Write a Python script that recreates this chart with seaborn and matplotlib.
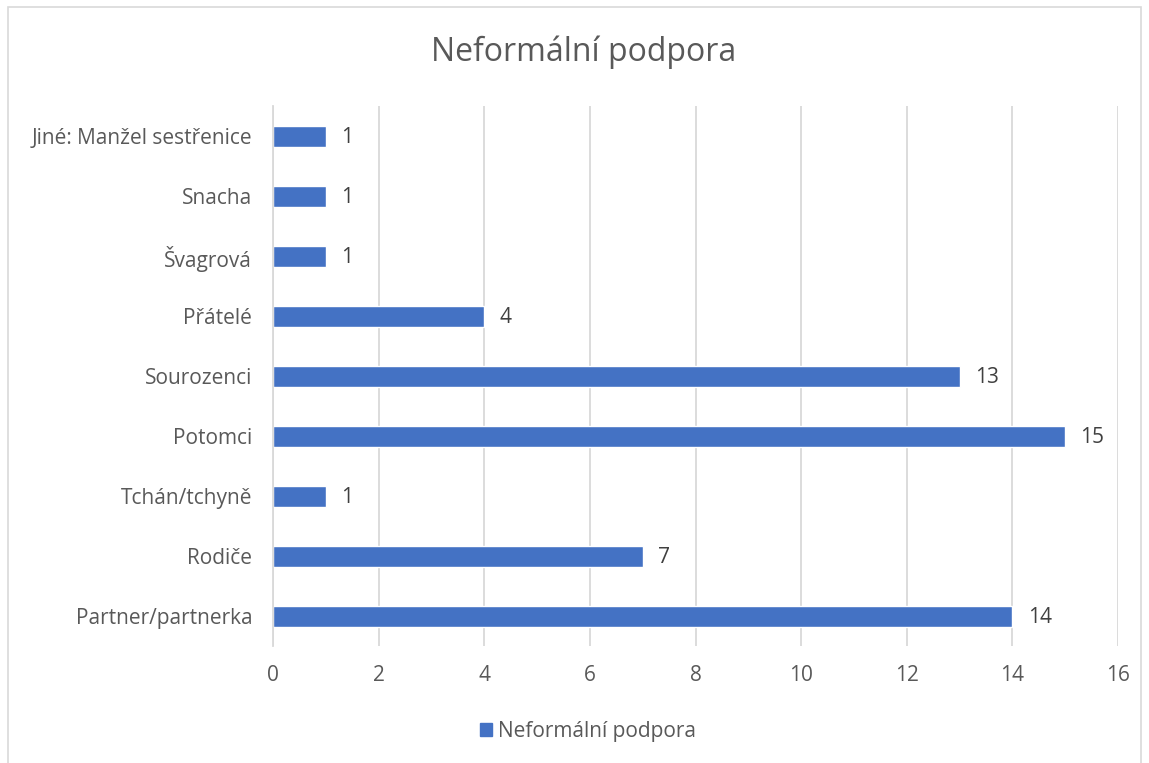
import matplotlib
matplotlib.use("Agg")
import matplotlib.pyplot as plt
import seaborn as sns
import pandas as pd
from matplotlib.patches import Rectangle

categories = ["Jiné: Manžel sestřenice", "Snacha", "Švagrová", "Přátelé", "Sourozenci",
              "Potomci", "Tchán/tchyně", "Rodiče", "Partner/partnerka"]
values = [1, 1, 1, 4, 13, 15, 1, 7, 14]
series_name = "Neformální podpora"
x_ticks = [0, 2, 4, 6, 8, 10, 12, 14, 16]

df = pd.DataFrame({"kategorie": categories, "hodnota": values, "serie": series_name})

sns.set_theme(style="white")
plt.rcParams["font.family"] = ["Open Sans", "DejaVu Sans"]

TXT = "#595959"
BLUE = "#4472C4"
GRID = "#D9D9D9"

fig = plt.figure(figsize=(11.49, 7.63), dpi=100)
ax = fig.add_axes([273/1149, 1-646/763, (1118-273)/1149, (646-106)/763])

sns.barplot(data=df, y="kategorie", x="hodnota", hue="serie", palette=[BLUE],
            orient="h", width=0.35, ax=ax, legend=False, saturation=1)

ax.set_xlim(0, 16)
ax.set_ylim(8.5, -0.5)
ax.set_xticks(x_ticks)
ax.set_xticklabels([str(t) for t in x_ticks])
ax.grid(axis="x", color=GRID, linewidth=1.3)
ax.set_axisbelow(True)
for s in ["top", "right", "bottom"]:
    ax.spines[s].set_visible(False)
ax.spines["left"].set_color(GRID)
ax.spines["left"].set_linewidth(1.3)
ax.tick_params(axis="both", length=0, labelsize=15, colors=TXT)
ax.tick_params(axis="y", pad=15)
ax.tick_params(axis="x", pad=14)
ax.set_xlabel("")
ax.set_ylabel("")

for i, v in enumerate(values):
    ax.annotate(str(v), xy=(v, i), xytext=(11, -1), textcoords="offset points",
                va="center", ha="left", fontsize=15, color="#404040")

fig.text(584/1149, 1-52/763, series_name, ha="center", va="center", fontsize=23, color=TXT)

fig.legend(handles=[Rectangle((0, 0), 1, 1, color=BLUE)], labels=[series_name],
           loc="center", bbox_to_anchor=(588/1149, 1-731/763), frameon=False,
           fontsize=15, labelcolor=TXT, handlelength=0.6, handleheight=0.6,
           handletextpad=0.3)

fig.patches.append(Rectangle((8/1149, -0.01), (1141-8)/1149, 1.01-7/763,
                             transform=fig.transFigure, fill=False,
                             edgecolor=GRID, linewidth=1.2))

fig.savefig("out.png", dpi=100, facecolor="white")
